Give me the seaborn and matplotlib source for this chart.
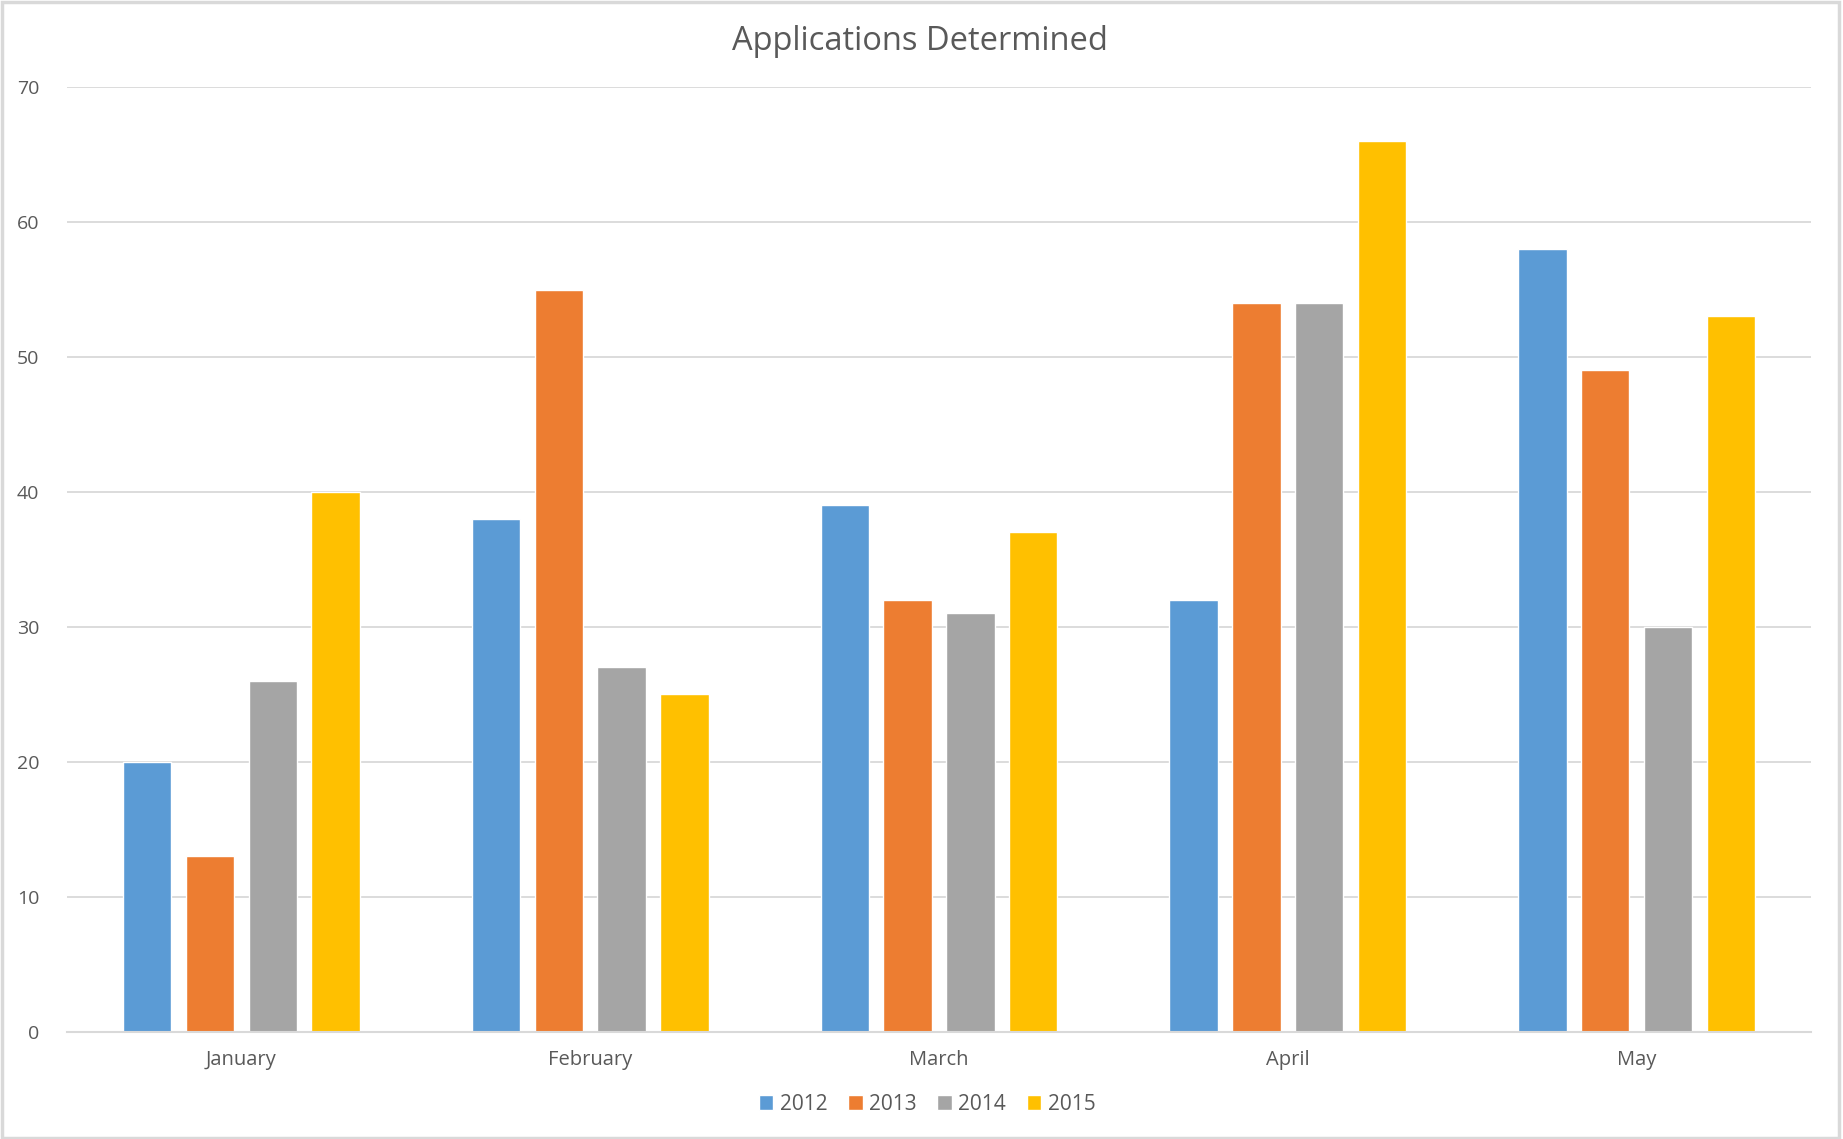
import pandas as pd
import matplotlib.pyplot as plt
import seaborn as sns
from matplotlib.patches import Rectangle

# Chart data
months = ['January', 'February', 'March', 'April', 'May']
years = ['2012', '2013', '2014', '2015']
values_2012 = [20, 38, 39, 32, 58]
values_2013 = [13, 55, 32, 54, 49]
values_2014 = [26, 27, 31, 54, 30]
values_2015 = [40, 25, 37, 66, 53]
colors = ['#5B9BD5', '#ED7D31', '#A5A5A5', '#FFC000']

# Long format for seaborn
series = [values_2012, values_2013, values_2014, values_2015]
rows = []
for year, vals in zip(years, series):
    for month, v in zip(months, vals):
        rows.append({'month': month, 'year': year, 'value': v})
df = pd.DataFrame(rows)

sns.set_theme(style='white')
plt.rcParams['font.family'] = ['Open Sans', 'DejaVu Sans']
text_color = '#595959'
grid_color = '#D9D9D9'

fig = plt.figure(figsize=(18.43, 11.39), dpi=100)
ax = fig.add_axes([0.0364, 0.094, 0.9462, 0.8296])

sns.barplot(data=df, x='month', y='value', hue='year', order=months, hue_order=years,
            palette=colors, width=0.72, gap=0.23, saturation=1, errorbar=None, ax=ax)

ax.set_ylim(0, 70)
ax.set_xlim(-0.5, 4.5)
ax.set_yticks(range(0, 71, 10))
ax.yaxis.grid(True, color=grid_color, linewidth=1.3)
ax.set_axisbelow(True)
for side in ['left', 'right', 'top']:
    ax.spines[side].set_visible(False)
ax.spines['bottom'].set_color(grid_color)
ax.spines['bottom'].set_linewidth(1.5)
ax.tick_params(axis='y', length=0, labelsize=14, colors=text_color, pad=20)
ax.tick_params(axis='x', length=0, labelsize=14.5, colors=text_color, pad=13)
ax.set_xlabel('')
ax.set_ylabel('')

ax.set_title('Applications Determined', fontsize=23.5, color=text_color, pad=27, x=0.489)

# Legend at the bottom
handles, labels = ax.get_legend_handles_labels()
ax.get_legend().remove()
fig.legend(handles, labels, loc='center', bbox_to_anchor=(0.503, 1 - 1104 / 1139), ncol=4,
           frameon=False, fontsize=15, handlelength=0.7, handleheight=0.7,
           handletextpad=0.3, columnspacing=1.0, labelcolor=text_color)

# Light frame around the chart
fig.patches.append(Rectangle((0.001, 0.001), 0.997, 0.997, transform=fig.transFigure,
                             fill=False, edgecolor=grid_color, linewidth=2.5))

fig.savefig('out.png', dpi=100)
